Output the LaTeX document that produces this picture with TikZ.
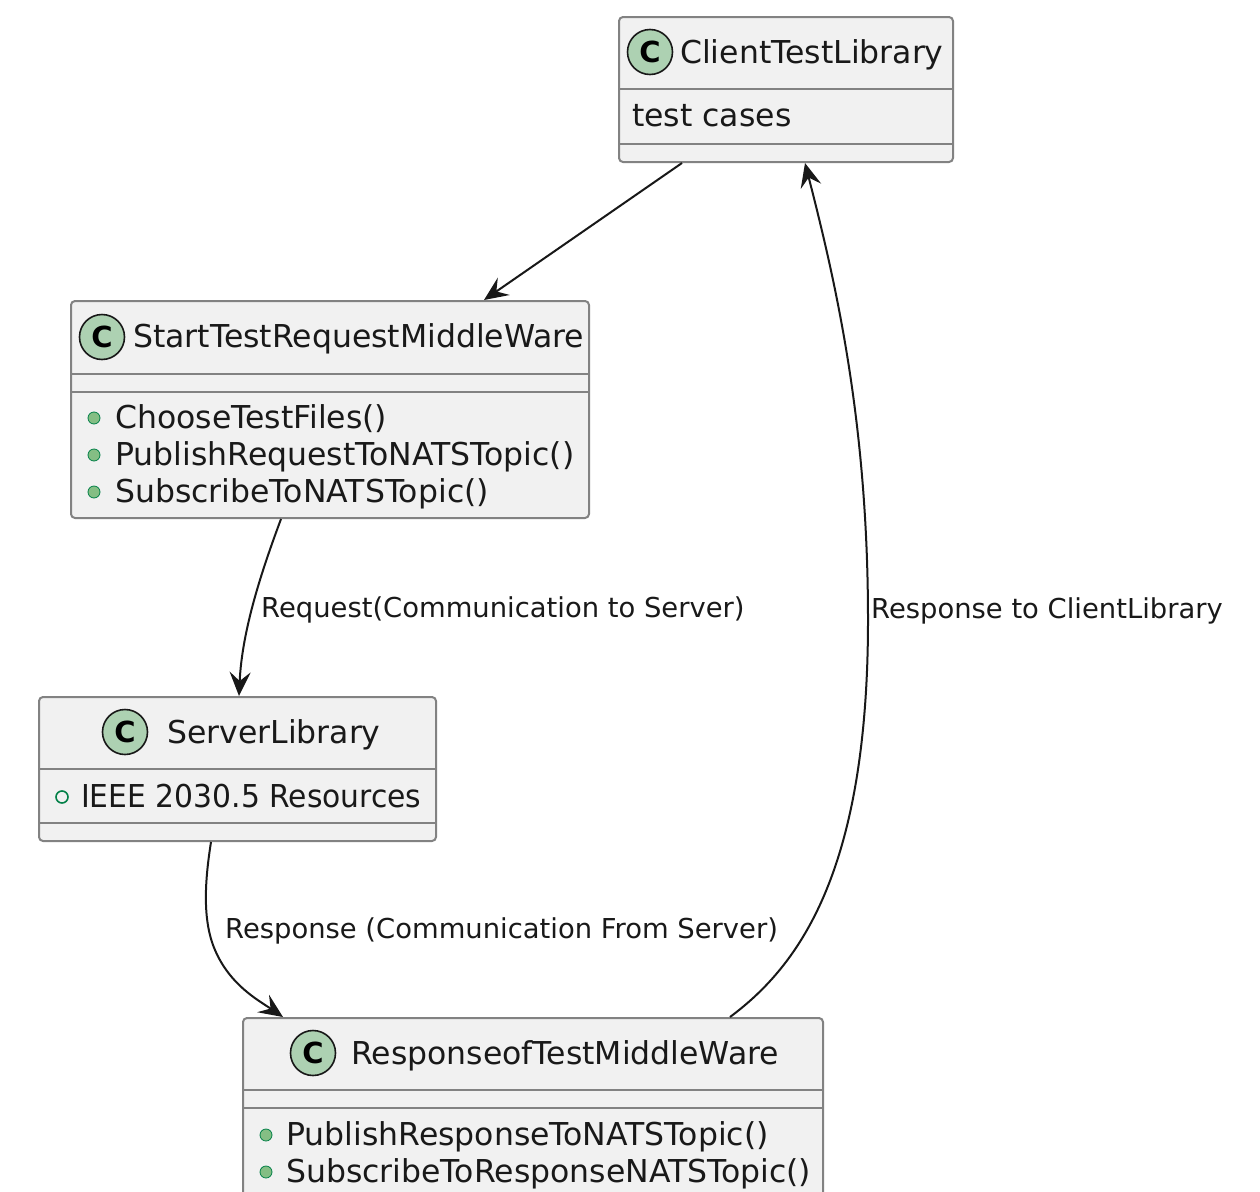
\documentclass[tikz,border=0pt]{standalone}
\usepackage{fontspec}
\setmainfont{DejaVu Sans}
\usetikzlibrary{arrows.meta,calc}
\definecolor{boxfill}{HTML}{F1F1F1}
\definecolor{boxline}{HTML}{828282}
\definecolor{circfill}{HTML}{ADD1B2}
\definecolor{dotfill}{HTML}{84BE84}
\definecolor{dotline}{HTML}{038048}
\definecolor{edgecol}{HTML}{181818}
\newcommand\clsfont{\fontsize{31.5}{36}\selectfont}
\newcommand\lblfont{\fontsize{27.4}{32}\selectfont}
\begin{document}
\begin{tikzpicture}[x=1pt,y=-1pt,
  classbox/.style={draw=boxline, fill=boxfill, line width=2pt, rounded corners=4pt, inner sep=0pt},
  sepline/.style={draw=boxline, line width=2pt},
  circ/.style={circle, draw=edgecol, fill=circfill, line width=1.6pt, minimum size=45pt, inner sep=0pt, font=\fontsize{29}{29}\selectfont\bfseries},
  txt/.style={anchor=base west, inner sep=0pt, font=\clsfont, text=black!90},
  lbl/.style={anchor=base west, inner sep=0pt, font=\lblfont, text=black!90},
  pubdot/.style={circle, fill=dotfill, draw=dotline, line width=0.8pt, minimum size=12pt, inner sep=0pt},
  pubring/.style={circle, draw=dotline, line width=1.6pt, minimum size=12pt, inner sep=0pt},
  conn/.style={draw=edgecol, line width=2pt, -{Stealth[length=24pt,width=21pt,inset=9pt]}}
]
\useasboundingbox (0,0) rectangle (1260,1191);
\clip (0,0) rectangle (1260,1191);

% ClientTestLibrary
\node[classbox, minimum width=334pt, minimum height=145pt] (ctl) at (786,89.5) {};
\draw[sepline] (619,89) -- (953,89);
\draw[sepline] (619,144) -- (953,144);
\node[circ] (ctlC) at (650,52) {C};
\node[txt] (ctlT) at (680,63) {ClientTestLibrary};
\node[txt] (ctlA) at (632,126) {test cases};

% StartTestRequestMiddleWare
\node[classbox, minimum width=518pt, minimum height=217pt] (str) at (330,409.5) {};
\draw[sepline] (71,374) -- (589,374);
\draw[sepline] (71,392) -- (589,392);
\node[circ] (strC) at (102,337) {C};
\node[txt] (strT) at (133,347) {StartTestRequestMiddleWare};
\node[pubdot] (strD1) at (94,418) {};
\node[txt] (strM1) at (115,428) {ChooseTestFiles()};
\node[pubdot] (strD2) at (94,455) {};
\node[txt] (strM2) at (115,465) {PublishRequestToNATSTopic()};
\node[pubdot] (strD3) at (94,492) {};
\node[txt] (strM3) at (115,502) {SubscribeToNATSTopic()};

% ServerLibrary
\node[classbox, minimum width=397pt, minimum height=144pt] (srv) at (237.5,769) {};
\draw[sepline] (39,769) -- (436,769);
\draw[sepline] (39,823) -- (436,823);
\node[circ] (srvC) at (125,732) {C};
\node[txt] (srvT) at (167,743) {ServerLibrary};
\node[pubring] (srvD1) at (62,797) {};
\node[txt] (srvA1) at (81,807) {\scalebox{0.945}[1]{IEEE 2030.5 Resources}};

% ResponseofTestMiddleWare
\node[classbox, minimum width=580pt, minimum height=200pt] (rsp) at (533,1118) {};
\draw[sepline] (243,1090) -- (823,1090);
\draw[sepline] (243,1108) -- (823,1108);
\node[circ] (rspC) at (313,1053) {C};
\node[txt] (rspT) at (351,1064) {ResponseofTestMiddleWare};
\node[pubdot] (rspD1) at (266,1135) {};
\node[txt] (rspM1) at (286,1145) {PublishResponseToNATSTopic()};
\node[pubdot] (rspD2) at (266,1172) {};
\node[txt] (rspM2) at (286,1182) {SubscribeToResponseNATSTopic()};

% connectors
\draw[conn] ($(ctl.south west)+(64,0)$) -- ($(str.north west)+(414,0)$);
\draw[conn] ($(str.south west)+(211,0)$) .. controls (262,570) and (242,630) .. ($(srv.north west)+(201,0)$);
\draw[conn] ($(srv.south west)+(173,0)$) .. controls (205,880) and (202,920) .. (215,950)
  .. controls (230,985) and (258,1000) .. ($(rsp.north west)+(41,0)$);
\draw[conn] ($(rsp.north west)+(488,0)$) .. controls (800,965) and (868,870) .. (868,620)
  .. controls (868,420) and (835,280) .. ($(ctl.south west)+(187,0)$);

% labels
\node[lbl] (l1) at (261,617) {Request(Communication to Server)};
\node[lbl] (l2) at (225,938) {Response (Communication From Server)};
\node[lbl] (l3) at (871,618) {Response to ClientLibrary};
\end{tikzpicture}
\end{document}
